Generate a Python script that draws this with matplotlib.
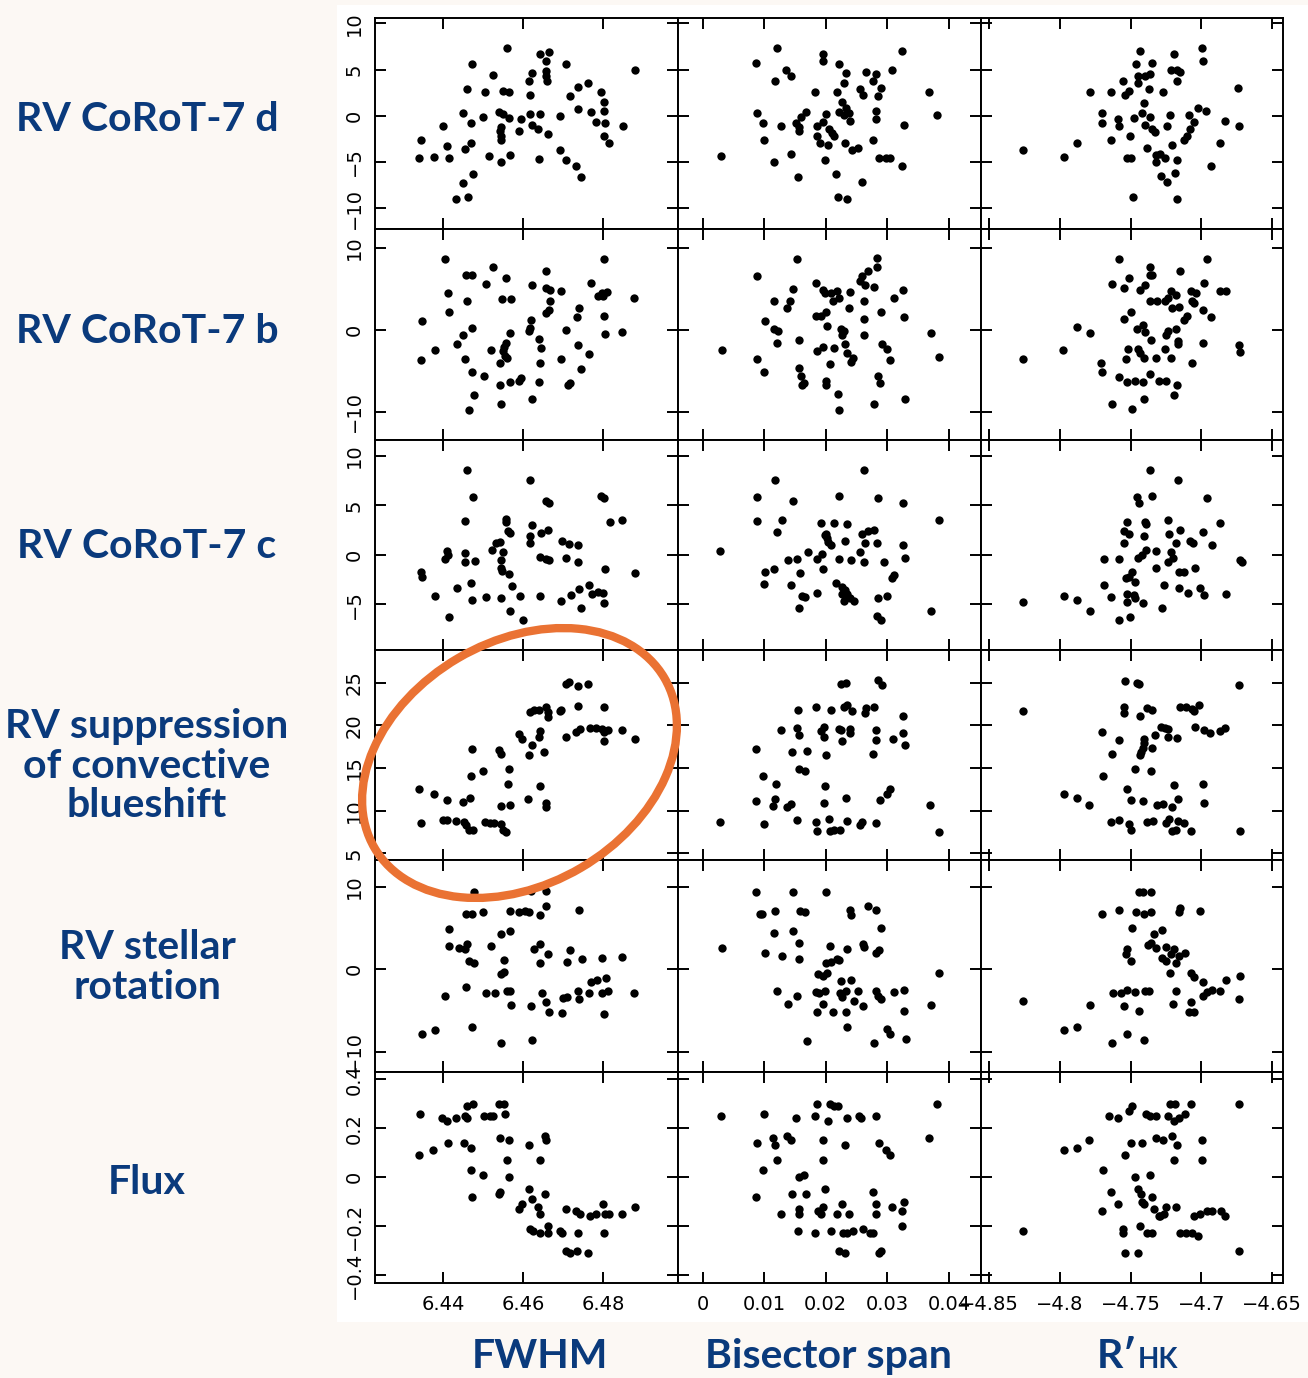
import matplotlib
matplotlib.use('Agg')
import matplotlib.pyplot as plt
from matplotlib.patches import Ellipse, Rectangle

###################### DATA ##########################
row_names = ['RV CoRoT-7 d', 'RV CoRoT-7 b', 'RV CoRoT-7 c',
             'RV suppression\nof convective\nblueshift', 'RV stellar\nrotation', 'Flux']
col_names = ['FWHM', 'Bisector span', 'R\u2032HK']

# row 1 : RV CoRoT-7 d
d_fwhm = [(6.4560,7.3),(6.4642,6.7),(6.4664,6.9),(6.4471,5.6),(6.4707,5.6),(6.4658,5.9),(6.4622,4.6),
          (6.4614,3.8),(6.4525,4.4),(6.4657,4.8),(6.4657,4.3),(6.4660,3.8),(6.4763,3.5),(6.4737,3.1),
          (6.4458,2.9),(6.4503,2.6),(6.4550,2.7),(6.4564,2.6),(6.4617,2.2),(6.4717,2.1),(6.4795,2.6),
          (6.4803,1.5),(6.4738,0.7),(6.4769,0.4),(6.4803,0.5),(6.4450,0.3),(6.4538,0.4),(6.4550,0.2),
          (6.4563,-0.2),(6.4498,-0.1),(6.4616,0.2),(6.4643,0.2),(6.4693,0.0),(6.4595,-0.4),(6.4469,-0.8),
          (6.4398,-1.1),(6.4622,-1.0),(6.4638,-1.4),(6.4783,-0.7),(6.4805,-0.8),(6.4849,-1.1),(6.4543,-1.2),
          (6.4542,-1.6),(6.4543,-2.2),(6.4544,-2.6),(6.4588,-1.6),(6.4663,-2.0),(6.4802,-2.2),(6.4815,-2.9),
          (6.4343,-2.6),(6.4410,-3.3),(6.4453,-3.6),(6.4468,-2.9),(6.4693,-3.7),(6.4339,-4.6),(6.4376,-4.5),
          (6.4413,-4.6),(6.4514,-4.3),(6.4567,-4.2),(6.4543,-5.0),(6.4639,-4.7),(6.4708,-4.8),(6.4733,-5.4),
          (6.4744,-6.6),(6.4473,-6.3),(6.4448,-7.3),(6.4432,-9.0),(6.4461,-8.8),(6.4879,5.0)]
d_bis = [(0.0120,7.3),(0.0087,5.7),(0.0196,6.7),(0.0195,5.9),(0.0222,5.6),(0.0323,7.0),(0.0136,4.9),
         (0.0144,4.3),(0.0117,3.8),(0.0232,4.6),(0.0265,4.7),(0.0281,4.5),(0.0277,3.8),(0.0308,5.0),
         (0.0230,3.5),(0.0182,2.6),(0.0218,2.6),(0.0256,2.9),(0.0260,2.3),(0.0290,3.0),(0.0285,2.1),
         (0.0367,2.6),(0.0227,1.5),(0.0088,0.3),(0.0098,-0.8),(0.0128,-1.1),(0.0152,-0.8),(0.0156,-1.2),
         (0.0157,-1.6),(0.0160,-0.1),(0.0168,0.4),(0.0185,-1.1),(0.0195,-0.7),(0.0200,0.2),(0.0205,-1.4),
         (0.0210,-1.9),(0.0213,-2.2),(0.0185,-2.2),(0.0191,-2.9),(0.0203,-3.2),(0.0222,0.4),(0.0229,0.1),
         (0.0233,0.8),(0.0238,0.3),(0.0240,-0.6),(0.0282,0.5),(0.0282,-0.4),(0.0327,-1.0),(0.0380,0.1),
         (0.0100,-2.6),(0.0231,-2.9),(0.0242,-3.7),(0.0253,-3.5),(0.0276,-2.6),(0.0030,-4.3),(0.0144,-4.1),
         (0.0116,-5.0),(0.0198,-4.8),(0.0286,-4.6),(0.0297,-4.6),(0.0305,-4.6),(0.0324,-5.4),(0.0155,-6.6),
         (0.0216,-6.3),(0.0259,-7.2),(0.0220,-8.8),(0.0234,-9.0)]
d_rhk = [(-4.7436,7.0),(-4.7192,6.7),(-4.6997,7.3),(-4.6986,5.9),(-4.7461,5.6),(-4.7350,5.7),(-4.7212,4.9),
         (-4.7169,4.9),(-4.7149,4.7),(-4.7169,3.8),(-4.7444,4.3),(-4.7398,4.3),(-4.7364,4.5),(-4.7450,3.5),
         (-4.7550,3.8),(-4.7513,2.7),(-4.7542,2.2),(-4.7370,2.9),(-4.7269,2.6),(-4.7636,2.6),(-4.7788,2.6),
         (-4.6739,3.0),(-4.7407,1.4),(-4.7702,0.3),(-4.7699,-0.8),(-4.7585,-0.4),(-4.7579,-1.1),(-4.7473,-0.2),
         (-4.7416,0.3),(-4.7401,-1.0),(-4.7364,-0.1),(-4.7350,-1.4),(-4.7330,-1.7),(-4.7221,0.1),(-4.7244,-1.1),
         (-4.7089,0.1),(-4.7020,0.8),(-4.6969,0.5),(-4.7049,-0.7),(-4.7077,-1.4),(-4.7100,-2.2),(-4.7120,-2.6),
         (-4.6834,-0.6),(-4.6734,-1.1),(-4.6871,-2.9),(-4.7636,-2.6),(-4.7507,-2.2),(-4.8258,-3.7),(-4.7880,-2.9),
         (-4.7971,-4.5),(-4.7387,-3.5),(-4.7321,-4.2),(-4.7292,-4.1),(-4.7255,-4.6),(-4.7321,-5.0),(-4.7527,-4.6),
         (-4.7496,-4.6),(-4.7206,-3.2),(-4.7172,-4.8),(-4.6934,-5.4),(-4.7287,-6.5),(-4.7244,-7.2),(-4.7189,-6.2),
         (-4.7484,-8.8),(-4.7169,-9.0)]

# row 2 : RV CoRoT-7 b
b_fwhm = [(6.4403,8.6),(6.4802,8.6),(6.4525,7.7),(6.4658,7.1),(6.4456,6.7),(6.4471,6.7),(6.4556,6.3),
          (6.4506,5.6),(6.4623,5.4),(6.4658,5.1),(6.4667,4.8),(6.4694,4.7),(6.4770,5.7),(6.4788,4.1),
          (6.4796,4.5),(6.4809,4.6),(6.4800,4.1),(6.4412,4.5),(6.4460,3.5),(6.4547,3.7),(6.4568,3.7),
          (6.4666,3.5),(6.4664,2.4),(6.4658,2.0),(6.4415,2.2),(6.4740,2.7),(6.4735,1.5),(6.4802,1.7),
          (6.4877,3.9),(6.4347,1.1),(6.4619,1.2),(6.4617,0.2),(6.4614,-0.1),(6.4708,0.0),(6.4471,0.2),
          (6.4450,-0.7),(6.4566,-0.4),(6.4805,-0.5),(6.4848,-0.3),(6.4435,-1.7),(6.4556,-1.6),(6.4551,-2.1),
          (6.4640,-1.1),(6.4645,-2.2),(6.4738,-1.9),(6.4379,-2.5),(6.4519,-2.5),(6.4548,-2.6),(6.4554,-3.2),
          (6.4560,-3.4),(6.4764,-3.0),(6.4344,-3.7),(6.4454,-3.6),(6.4694,-3.6),(6.4643,-4.0),(6.4542,-4.1),
          (6.4744,-4.8),(6.4472,-5.2),(6.4501,-5.6),(6.4542,-6.8),(6.4566,-6.4),(6.4589,-6.3),(6.4595,-5.9),
          (6.4640,-6.4),(6.4711,-6.7),(6.4717,-6.5),(6.4477,-8.0),(6.4623,-8.5),(6.4463,-9.8),(6.4545,-9.1)]
b_bis = [(0.0154,8.6),(0.0283,8.7),(0.0283,7.7),(0.0268,7.1),(0.0258,6.5),(0.0088,6.6),(0.0256,5.9),
         (0.0263,5.4),(0.0184,5.7),(0.0196,4.9),(0.0199,4.5),(0.0208,4.5),(0.0218,4.7),(0.0239,4.6),
         (0.0146,5.0),(0.0279,5.2),(0.0326,4.9),(0.0310,3.9),(0.0211,3.5),(0.0222,3.9),(0.0116,3.5),
         (0.0142,3.5),(0.0262,3.5),(0.0137,2.6),(0.0238,2.7),(0.0289,2.2),(0.0201,2.1),(0.0193,1.7),
         (0.0184,1.7),(0.0327,1.5),(0.0101,1.1),(0.0262,1.3),(0.0202,0.4),(0.0116,0.1),(0.0122,-0.1),
         (0.0225,0.1),(0.0229,-0.2),(0.0227,-0.7),(0.0262,-0.7),(0.0370,-0.4),(0.0156,-1.2),(0.0121,-1.6),
         (0.0231,-1.7),(0.0291,-1.8),(0.0299,-2.3),(0.0196,-2.1),(0.0214,-2.2),(0.0186,-2.6),(0.0234,-2.8),
         (0.0305,-3.7),(0.0032,-2.5),(0.0089,-3.6),(0.0244,-3.5),(0.0241,-3.9),(0.0207,-4.2),(0.0099,-5.2),
         (0.0156,-4.7),(0.0160,-5.7),(0.0164,-6.5),(0.0161,-6.7),(0.0201,-6.3),(0.0201,-6.7),(0.0284,-5.7),
         (0.0288,-6.5),(0.0383,-3.3),(0.0219,-7.9),(0.0222,-9.8),(0.0278,-9.1),(0.0329,-8.4)]
b_rhk = [(-4.7582,8.6),(-4.6961,8.6),(-4.7362,7.7),(-4.7147,7.1),(-4.7362,6.7),(-4.7345,6.7),(-4.7513,6.3),
         (-4.7634,5.6),(-4.7397,5.4),(-4.7543,5.1),(-4.7431,4.9),(-4.6983,5.7),(-4.7073,4.7),(-4.7039,4.5),
         (-4.6871,4.7),(-4.6828,4.7),(-4.7211,4.7),(-4.7181,4.2),(-4.7362,3.5),(-4.7310,3.5),(-4.7259,3.5),
         (-4.7237,3.9),(-4.7160,2.8),(-4.7065,3.5),(-4.6987,2.4),(-4.7052,3.3),(-4.7496,2.2),(-4.7543,1.3),
         (-4.7207,2.6),(-4.7104,1.7),(-4.7125,1.2),(-4.6931,1.5),(-4.7414,0.6),(-4.7453,0.1),(-4.7401,-0.3),
         (-4.7358,-1.2),(-4.7237,-0.1),(-4.7250,-0.6),(-4.7181,0.1),(-4.7164,-1.4),(-4.7168,-1.8),(-4.7254,-2.4),
         (-4.7319,-3.5),(-4.7216,-3.4),(-4.7448,-2.4),(-4.7517,-2.3),(-4.7431,-2.8),(-4.7405,-3.5),(-4.7534,-3.6),
         (-4.7879,0.3),(-4.7784,-0.4),(-4.7978,-2.5),(-4.8259,-3.6),(-4.7707,-4.0),(-4.7703,-5.2),(-4.7582,-5.8),
         (-4.7526,-6.4),(-4.7466,-6.3),(-4.7410,-6.4),(-4.7362,-5.4),(-4.7302,-6.3),(-4.7246,-6.3),(-4.7172,-6.7),
         (-4.7069,-4.1),(-4.6987,-1.6),(-4.6737,-1.9),(-4.6728,-2.7),(-4.7190,-8.0),(-4.7405,-8.4),(-4.7634,-9.1),
         (-4.7491,-9.7)]

# row 3 : RV CoRoT-7 c
c_fwhm = [(6.4460,8.6),(6.4616,7.6),(6.4474,5.8),(6.4794,5.9),(6.4802,5.7),(6.4658,5.4),(6.4664,5.2),
          (6.4454,3.4),(6.4556,3.6),(6.4557,3.3),(6.4562,2.4),(6.4566,2.2),(6.4848,3.5),(6.4817,3.3),
          (6.4623,3.0),(6.4661,2.5),(6.4645,2.2),(6.4617,1.9),(6.4616,1.2),(6.4531,1.2),(6.4542,1.3),
          (6.4521,0.5),(6.4548,0.3),(6.4408,0.4),(6.4412,0.0),(6.4403,-0.4),(6.4454,0.2),(6.4454,-0.7),
          (6.4479,-0.6),(6.4643,-0.2),(6.4657,-0.4),(6.4664,-0.5),(6.4708,-0.3),(6.4696,1.4),(6.4714,1.1),
          (6.4738,1.0),(6.4738,-0.7),(6.4543,-0.5),(6.4545,-1.3),(6.4546,-1.6),(6.4563,-1.9),(6.4879,-1.8),
          (6.4805,-1.4),(6.4344,-1.7),(6.4347,-2.2),(6.4571,-3.1),(6.4433,-3.4),(6.4472,-4.6),(6.4469,-2.8),
          (6.4506,-4.3),(6.4545,-4.4),(6.4379,-4.2),(6.4592,-4.2),(6.4642,-4.2),(6.4694,-4.7),(6.4719,-4.1),
          (6.4740,-3.5),(6.4764,-3.0),(6.4771,-4.0),(6.4788,-3.8),(6.4800,-3.9),(6.4802,-4.9),(6.4744,-5.4),
          (6.4566,-5.7),(6.4415,-6.3),(6.4599,-6.6)]
c_bis = [(0.0262,8.6),(0.0118,7.6),(0.0088,5.8),(0.0146,5.4),(0.0221,5.9),(0.0284,5.7),(0.0326,5.2),
         (0.0089,3.4),(0.0129,3.5),(0.0120,2.3),(0.0192,3.2),(0.0214,3.2),(0.0234,3.1),(0.0383,3.5),
         (0.0200,2.1),(0.0202,1.7),(0.0204,1.3),(0.0208,1.0),(0.0198,2.0),(0.0231,1.4),(0.0258,2.1),
         (0.0268,2.4),(0.0278,2.5),(0.0264,1.2),(0.0283,1.2),(0.0255,0.3),(0.0326,1.0),(0.0329,-0.3),
         (0.0171,0.3),(0.0138,-0.5),(0.0153,-0.4),(0.0186,-0.4),(0.0194,0.1),(0.0222,-0.4),(0.0241,-0.5),
         (0.0262,-0.7),(0.0294,-0.7),(0.0196,-1.4),(0.0158,-1.8),(0.0101,-1.7),(0.0116,-1.4),(0.0029,0.4),
         (0.0099,-2.9),(0.0144,-3.0),(0.0161,-4.2),(0.0156,-5.4),(0.0167,-4.3),(0.0186,-3.9),(0.0217,-2.8),
         (0.0226,-3.2),(0.0231,-3.6),(0.0234,-4.0),(0.0229,-4.7),(0.0246,-4.7),(0.0284,-4.4),(0.0300,-4.2),
         (0.0310,-2.0),(0.0307,-2.3),(0.0283,-6.2),(0.0289,-6.6),(0.0370,-5.7),(0.0239,-4.4),(0.0226,-4.0)]
c_rhk = [(-4.7362,8.6),(-4.7164,7.6),(-4.7457,5.8),(-4.7440,5.2),(-4.7349,5.9),(-4.6957,5.7),(-4.7397,3.3),
         (-4.7526,3.3),(-4.7543,2.4),(-4.7513,2.1),(-4.7392,3.1),(-4.7233,3.5),(-4.7229,2.1),(-4.7147,2.5),
         (-4.6987,2.3),(-4.6866,3.2),(-4.7543,1.2),(-4.7405,1.9),(-4.7388,0.5),(-4.7319,0.4),(-4.7181,1.2),
         (-4.7082,1.4),(-4.7060,1.2),(-4.6922,1.0),(-4.7690,-0.4),(-4.7578,-0.4),(-4.7448,-0.3),(-4.7422,0.0),
         (-4.7211,0.3),(-4.7203,-0.3),(-4.7233,-0.7),(-4.7319,-1.3),(-4.7487,-1.7),(-4.7513,-2.2),(-4.7470,-2.7),
         (-4.7267,-3.0),(-4.7160,-1.7),(-4.7125,-1.7),(-4.7047,-1.3),(-4.6729,-0.5),(-4.6716,-0.7),(-4.7690,-3.0),
         (-4.7534,-2.3),(-4.7638,-4.3),(-4.7526,-4.0),(-4.7474,-4.1),(-4.7466,-4.4),(-4.7526,-4.8),(-4.7410,-4.9),
         (-4.7280,-5.4),(-4.7155,-3.4),(-4.7095,-3.9),(-4.7009,-3.4),(-4.6983,-4.1),(-4.6828,-4.0),(-4.8259,-4.8),
         (-4.7970,-4.2),(-4.7879,-4.6),(-4.7784,-5.7),(-4.7578,-6.6),(-4.7504,-6.3)]

# row 4 : RV suppression of convective blueshift
cb_fwhm = [(6.4708,24.8),(6.4715,25.1),(6.4738,24.6),(6.4763,24.9),(6.4738,22.3),(6.4802,22.1),(6.4617,21.6),
           (6.4627,21.8),(6.4640,21.8),(6.4658,22.1),(6.4663,21.6),(6.4663,21.0),(6.4692,21.7),(6.4694,21.8),
           (6.4590,19.0),(6.4596,18.4),(6.4642,19.3),(6.4640,18.6),(6.4622,17.7),(6.4615,16.5),(6.4653,16.9),
           (6.4708,18.6),(6.4733,19.2),(6.4743,19.6),(6.4767,19.7),(6.4783,19.7),(6.4796,19.6),(6.4802,19.2),
           (6.4802,18.2),(6.4813,19.4),(6.4848,19.4),(6.4879,18.4),(6.4471,17.2),(6.4538,17.1),(6.4543,16.6),
           (6.4498,14.6),(6.4563,14.9),(6.4469,14.0),(6.4561,13.1),(6.4642,12.9),(6.4340,12.5),(6.4376,11.9),
           (6.4410,11.2),(6.4448,11.0),(6.4467,11.5),(6.4543,10.5),(6.4567,10.7),(6.4613,11.4),(6.4656,10.9),
           (6.4657,10.4),(6.4343,8.5),(6.4398,8.9),(6.4408,8.9),(6.4432,8.8),(6.4451,8.7),(6.4456,8.3),
           (6.4463,7.7),(6.4475,7.7),(6.4503,8.7),(6.4517,8.6),(6.4527,8.5),(6.4543,8.4),(6.4550,7.7),(6.4557,7.5)]
cb_bis = [(0.0224,24.9),(0.0232,25.0),(0.0285,25.3),(0.0292,24.7),(0.0155,21.8),(0.0184,22.2),(0.0209,21.8),
          (0.0229,22.1),(0.0235,22.4),(0.0243,21.7),(0.0263,21.5),(0.0266,22.0),(0.0279,22.2),(0.0325,21.1),
          (0.0128,19.4),(0.0154,19.7),(0.0156,18.9),(0.0192,19.3),(0.0197,19.8),(0.0197,18.6),(0.0221,19.6),
          (0.0225,19.5),(0.0240,19.6),(0.0240,19.1),(0.0227,18.2),(0.0282,19.4),(0.0282,18.3),(0.0309,18.4),
          (0.0325,19.1),(0.0329,17.7),(0.0087,17.2),(0.0145,16.9),(0.0169,17.0),(0.0200,16.5),(0.0277,16.6),
          (0.0156,14.9),(0.0166,14.6),(0.0098,14.0),(0.0119,13.1),(0.0198,12.9),(0.0232,11.5),(0.0288,11.2),
          (0.0300,11.9),(0.0305,12.5),(0.0087,11.1),(0.0117,11.4),(0.0115,10.5),(0.0137,10.4),(0.0143,10.8),
          (0.0197,10.9),(0.0369,10.7),(0.0029,8.7),(0.0100,8.4),(0.0153,8.9),(0.0184,8.7),(0.0185,7.6),
          (0.0205,9.0),(0.0206,7.6),(0.0214,7.7),(0.0223,7.7),(0.0235,8.8),(0.0256,8.3),(0.0259,8.7),
          (0.0282,8.6),(0.0383,7.5)]
cb_rhk = [(-4.7539,25.2),(-4.7455,25.0),(-4.7441,24.8),(-4.6735,24.7),(-4.8257,21.7),(-4.7545,22.2),(-4.7545,21.4),
          (-4.7433,21.1),(-4.7386,22.0),(-4.7349,21.8),(-4.7148,22.1),(-4.7106,22.2),(-4.7064,21.9),(-4.7050,21.7),
          (-4.7014,22.4),(-4.7288,19.8),(-4.7254,19.7),(-4.7232,19.6),(-4.7170,18.5),(-4.7238,18.6),(-4.7330,18.9),
          (-4.7045,19.8),(-4.6981,19.5),(-4.6939,19.1),(-4.6869,19.3),(-4.6833,19.7),(-4.7701,19.2),(-4.7581,18.3),
          (-4.7405,18.4),(-4.7408,17.9),(-4.7413,17.3),(-4.7427,16.9),(-4.7433,16.5),(-4.7349,17.3),(-4.7631,16.6),
          (-4.7469,14.9),(-4.7358,14.6),(-4.7693,14.0),(-4.7525,12.5),(-4.7190,13.0),(-4.6986,13.1),(-4.7972,11.9),
          (-4.7880,11.5),(-4.7791,10.7),(-4.7497,11.2),(-4.7411,11.1),(-4.7316,10.6),(-4.7274,10.8),(-4.7204,10.4),
          (-4.7165,11.4),(-4.6981,10.9),(-4.7637,8.7),(-4.7581,8.9),(-4.7511,8.4),(-4.7497,7.7),(-4.7386,8.7),
          (-4.7344,8.8),(-4.7246,8.6),(-4.7226,9.0),(-4.7204,7.6),(-4.7182,7.7),(-4.7162,8.8),(-4.7120,8.5),
          (-4.7070,7.6),(-4.6729,7.6)]

# row 5 : RV stellar rotation
rot_fwhm = [(6.4476,9.4),(6.4619,9.5),(6.4657,9.5),(6.4657,7.7),(6.4456,6.7),(6.4471,6.7),(6.4500,6.9),
            (6.4566,7.0),(6.4589,6.9),(6.4605,7.0),(6.4614,6.9),(6.4643,6.6),(6.4740,7.2),(6.4415,4.9),
            (6.4543,4.3),(6.4566,4.6),(6.4415,2.8),(6.4438,2.6),(6.4453,2.4),(6.4460,3.0),(6.4465,1.0),
            (6.4476,0.8),(6.4518,2.8),(6.4627,2.5),(6.4642,3.1),(6.4663,1.8),(6.4717,2.3),(6.4710,0.9),
            (6.4747,1.2),(6.4796,1.4),(6.4848,1.5),(6.4551,1.1),(6.4551,-0.3),(6.4543,-0.6),(6.4642,0.7),
            (6.4770,-1.5),(6.4785,-1.3),(6.4806,-1.1),(6.4456,-2.1),(6.4507,-2.9),(6.4530,-2.9),(6.4559,-2.7),
            (6.4566,-2.7),(6.4405,-3.2),(6.4568,-4.3),(6.4619,-4.5),(6.4646,-2.9),(6.4657,-4.0),(6.4664,-5.2),
            (6.4699,-3.5),(6.4697,-5.3),(6.4710,-3.4),(6.4737,-2.7),(6.4740,-3.6),(6.4764,-2.9),(6.4796,-2.9),
            (6.4802,-5.4),(6.4811,-2.7),(6.4877,-2.9),(6.4346,-7.9),(6.4379,-7.4),(6.4471,-7.0),(6.4543,-8.9),
            (6.4623,-8.6)]
rot_bis = [(0.0087,9.4),(0.0146,9.4),(0.0201,9.4),(0.0093,6.7),(0.0097,6.7),(0.0118,7.0),(0.0158,7.0),
           (0.0166,6.9),(0.0239,7.2),(0.0241,6.6),(0.0268,7.7),(0.0282,7.2),(0.0289,5.0),(0.0116,4.4),
           (0.0146,4.6),(0.0156,3.2),(0.0129,1.6),(0.0156,1.2),(0.0101,2.0),(0.0206,2.8),(0.0234,2.5),
           (0.0260,3.1),(0.0262,2.7),(0.0281,2.0),(0.0286,2.3),(0.0201,0.7),(0.0209,0.9),(0.0218,1.2),
           (0.0222,1.1),(0.0196,-0.8),(0.0187,-0.6),(0.0202,-0.5),(0.0225,-1.4),(0.0241,-1.3),(0.0031,2.6),
           (0.0121,-2.7),(0.0138,-4.2),(0.0153,-3.2),(0.0184,-2.8),(0.0189,-2.9),(0.0199,-2.7),(0.0196,-4.2),
           (0.0223,-2.9),(0.0226,-3.4),(0.0232,-2.7),(0.0246,-3.8),(0.0253,-2.7),(0.0261,-4.4),(0.0281,-2.7),
           (0.0284,-3.2),(0.0289,-3.6),(0.0310,-2.8),(0.0327,-2.5),(0.0327,-5.1),(0.0370,-4.3),(0.0383,-0.4),
           (0.0186,-5.2),(0.0211,-5.2),(0.0232,-5.2),(0.0234,-7.0),(0.0169,-8.7),(0.0300,-7.3),(0.0305,-7.8),
           (0.0278,-8.9),(0.0330,-8.5)]
rot_rhk = [(-4.7440,9.4),(-4.7354,9.4),(-4.7410,9.4),(-4.7698,6.7),(-4.7578,7.2),(-4.7461,6.9),(-4.7405,6.7),
           (-4.7354,6.9),(-4.7147,7.4),(-4.7160,6.9),(-4.7009,7.1),(-4.7491,5.0),(-4.7332,4.3),(-4.7280,4.7),
           (-4.7354,3.2),(-4.7375,2.9),(-4.7319,2.6),(-4.7246,2.7),(-4.7190,2.5),(-4.7116,2.0),(-4.7216,1.9),
           (-4.7160,1.6),(-4.7276,1.4),(-4.7246,1.0),(-4.7181,0.8),(-4.7526,2.5),(-4.7534,1.9),(-4.7496,1.0),
           (-4.7224,-0.4),(-4.7073,-0.4),(-4.7052,-0.9),(-4.6987,-1.5),(-4.6823,-1.3),(-4.6729,-0.8),(-4.7526,-2.5),
           (-4.7621,-2.9),(-4.7569,-2.9),(-4.7470,-2.8),(-4.7397,-2.7),(-4.7366,-2.7),(-4.7181,-2.7),(-4.7073,-4.0),
           (-4.7086,-5.2),(-4.7052,-5.2),(-4.6957,-2.8),(-4.6922,-2.5),(-4.6866,-2.7),(-4.6987,-3.3),(-4.7203,-4.2),
           (-4.7440,-5.1),(-4.7543,-4.4),(-4.6737,-3.6),(-4.8259,-3.8),(-4.7784,-4.3),(-4.7970,-7.4),(-4.7879,-7.0),
           (-4.7634,-8.9),(-4.7526,-7.8),(-4.7405,-8.6)]

# row 6 : Flux
flux_fwhm = [(6.4342,0.26),(6.4338,0.09),(6.4375,0.11),(6.4411,0.14),(6.4396,0.24),(6.4408,0.23),(6.4432,0.24),
             (6.4453,0.25),(6.4458,0.24),(6.4452,0.14),(6.4468,0.12),(6.4458,0.29),(6.4475,0.30),(6.4469,0.03),
             (6.4471,-0.08),(6.4498,0.01),(6.4502,0.25),(6.4517,0.25),(6.4525,0.25),(6.4538,0.30),(6.4552,0.30),
             (6.4553,0.26),(6.4542,0.16),(6.4565,0.15),(6.4560,0.07),(6.4563,0.00),(6.4538,-0.07),(6.4542,-0.06),
             (6.4590,-0.13),(6.4596,-0.11),(6.4614,0.13),(6.4614,-0.05),(6.4621,-0.09),(6.4638,-0.12),(6.4642,-0.15),
             (6.4642,0.07),(6.4654,0.17),(6.4658,0.15),(6.4654,-0.07),(6.4617,-0.21),(6.4625,-0.22),(6.4642,-0.23),
             (6.4663,-0.20),(6.4663,-0.23),(6.4692,-0.22),(6.4696,-0.23),(6.4708,-0.13),(6.4733,-0.14),(6.4743,-0.15),
             (6.4767,-0.16),(6.4783,-0.15),(6.4800,-0.11),(6.4804,-0.15),(6.4815,-0.15),(6.4848,-0.15),(6.4879,-0.12),
             (6.4707,-0.30),(6.4718,-0.31),(6.4735,-0.30),(6.4763,-0.31),(6.4738,-0.23),(6.4802,-0.23)]
flux_bis = [(0.0030,0.25),(0.0100,0.26),(0.0186,0.30),(0.0206,0.30),(0.0213,0.29),(0.0220,0.29),(0.0182,0.25),
            (0.0203,0.23),(0.0152,0.24),(0.0234,0.24),(0.0254,0.25),(0.0257,0.24),(0.0281,0.25),(0.0380,0.30),
            (0.0088,0.14),(0.0114,0.16),(0.0117,0.13),(0.0137,0.17),(0.0143,0.15),(0.0195,0.15),(0.0231,0.13),
            (0.0286,0.14),(0.0297,0.11),(0.0304,0.09),(0.0367,0.16),(0.0120,0.07),(0.0195,0.07),(0.0098,0.03),
            (0.0156,0.00),(0.0165,0.01),(0.0086,-0.08),(0.0145,-0.07),(0.0168,-0.07),(0.0199,-0.05),(0.0276,-0.06),
            (0.0127,-0.15),(0.0156,-0.13),(0.0156,-0.15),(0.0187,-0.14),(0.0193,-0.15),(0.0196,-0.12),(0.0226,-0.11),
            (0.0218,-0.15),(0.0238,-0.15),(0.0282,-0.11),(0.0282,-0.15),(0.0308,-0.12),(0.0327,-0.10),(0.0323,-0.14),
            (0.0323,-0.20),(0.0155,-0.22),(0.0183,-0.23),(0.0208,-0.22),(0.0228,-0.23),(0.0235,-0.23),(0.0244,-0.22),
            (0.0261,-0.21),(0.0271,-0.23),(0.0277,-0.23),(0.0221,-0.30),(0.0231,-0.31),(0.0286,-0.31),(0.0290,-0.30)]
flux_rhk = [(-4.7650,0.25),(-4.7587,0.24),(-4.7513,0.27),(-4.7493,0.29),(-4.7393,0.26),(-4.7364,0.25),(-4.7321,0.25),
            (-4.7235,0.25),(-4.7192,0.23),(-4.7158,0.24),(-4.7112,0.26),(-4.7221,0.30),(-4.7186,0.30),(-4.7072,0.30),
            (-4.6734,0.30),(-4.7971,0.11),(-4.7880,0.12),(-4.7794,0.15),(-4.7499,0.14),(-4.7416,0.14),(-4.7321,0.16),
            (-4.7272,0.15),(-4.7206,0.17),(-4.7169,0.13),(-4.7536,0.09),(-4.7192,0.07),(-4.6992,0.15),(-4.6992,0.07),
            (-4.7696,0.03),(-4.7470,0.00),(-4.7364,0.01),(-4.7636,-0.06),(-4.7450,-0.05),(-4.7427,-0.07),(-4.7421,-0.10),
            (-4.7407,-0.11),(-4.7350,-0.08),(-4.7585,-0.11),(-4.7702,-0.14),(-4.7335,-0.13),(-4.7292,-0.16),(-4.7249,-0.12),
            (-4.7178,-0.12),(-4.7049,-0.16),(-4.7006,-0.15),(-4.6963,-0.14),(-4.6926,-0.14),(-4.6863,-0.14),(-4.6834,-0.16),
            (-4.7550,-0.21),(-4.7550,-0.23),(-4.7436,-0.20),(-4.7387,-0.23),(-4.7350,-0.23),(-4.7149,-0.23),(-4.7106,-0.23),
            (-4.7063,-0.23),(-4.7020,-0.24),(-4.7542,-0.31),(-4.7450,-0.31),(-4.6734,-0.30),(-4.8258,-0.22),(-4.7301,-0.16),
            (-4.7264,-0.15)]

# axis ticks and ranges
fwhm_ticks = [6.44, 6.46, 6.48]
bis_ticks = [0, 0.01, 0.02, 0.03, 0.04]
bis_labels = ['0', '0.01', '0.02', '0.03', '0.04']
rhk_ticks = [-4.85, -4.8, -4.75, -4.7, -4.65]
rhk_labels = ['\u22124.85', '\u22124.8', '\u22124.75', '\u22124.7', '\u22124.65']
x_ticks = [fwhm_ticks, bis_ticks, rhk_ticks]
x_labels = [['6.44', '6.46', '6.48'], bis_labels, rhk_labels]
x_lims = [(6.4229, 6.4987), (-0.0040, 0.0452), (-4.8556, -4.6423)]

y_ticks = [[-10, -5, 0, 5, 10], [-10, 0, 10], [-5, 0, 5, 10], [5, 10, 15, 20, 25], [-10, 0, 10],
           [-0.4, -0.2, 0, 0.2, 0.4]]
y_labels = [['\u221210', '\u22125', '0', '5', '10'], ['\u221210', '0', '10'], ['\u22125', '0', '5', '10'],
            ['5', '10', '15', '20', '25'], ['\u221210', '0', '10'],
            ['\u22120.4', '\u22120.2', '0', '0.2', '0.4']]
y_lims = [(-12.24, 10.57), (-13.45, 12.28), (-9.61, 11.59), (4.21, 28.83), (-12.46, 13.24), (-0.4325, 0.430)]

panels = [[d_fwhm, d_bis, d_rhk], [b_fwhm, b_bis, b_rhk], [c_fwhm, c_bis, c_rhk],
          [cb_fwhm, cb_bis, cb_rhk], [rot_fwhm, rot_bis, rot_rhk], [flux_fwhm, flux_bis, flux_rhk]]

#################### LAYOUT ##########################
W, H = 1308, 1378
cream = '#fcf8f4'
navy = '#0a3a7c'
col_edges = [375, 678, 981, 1283]
row_edges = [18, 229, 440, 650, 860, 1072, 1283]

fig = plt.figure(figsize=(W / 100, H / 100), dpi=100, facecolor=cream)
fig.add_artist(Rectangle((337 / W, 1 - 1322 / H), (W - 337) / W, (1322 - 5) / H,
                         transform=fig.transFigure, facecolor='white', edgecolor='none', zorder=-5))

for r in range(6):
    for c in range(3):
        x0, x1 = col_edges[c], col_edges[c + 1]
        y0, y1 = row_edges[r], row_edges[r + 1]
        ax = fig.add_axes([x0 / W, 1 - y1 / H, (x1 - x0) / W, (y1 - y0) / H])
        ax.set_facecolor('white')
        pts = panels[r][c]
        ax.plot([p[0] for p in pts], [p[1] for p in pts], 'o', color='black', ms=6, mew=0)
        ax.set_xlim(*x_lims[c])
        ax.set_ylim(*y_lims[r])
        ax.set_xticks(x_ticks[c], x_labels[c], fontsize=14, family='DejaVu Sans')
        ax.set_yticks(y_ticks[r], y_labels[r], fontsize=14, family='DejaVu Sans',
                      rotation=90, va='center')
        ax.tick_params(direction='in', length=8, width=1.4, top=True, right=True,
                       labelleft=(c == 0), labelbottom=(r == 5))
        ax.tick_params(axis='y', pad=8)
        ax.tick_params(axis='x', pad=9)
        for s in ax.spines.values():
            s.set_linewidth(1.4)

################ TEXT + HIGHLIGHT ####################
ov = fig.add_axes([0, 0, 1, 1], zorder=10)
ov.set_xlim(0, W)
ov.set_ylim(H, 0)
ov.axis('off')
ov.patch.set_alpha(0)

lab_font = dict(family='Lato', weight='bold', color=navy, fontsize=29.5, ha='center', va='baseline')
left_lines = [(row_names[0], 131), (row_names[1], 343), (row_names[2], 558)]
for txt, yb in left_lines:
    ov.text(147, yb, txt, **lab_font)
for txt, yb in zip(row_names[3].split('\n'), [738, 778, 817]):
    ov.text(147, yb, txt, **lab_font)
for txt, yb in zip(row_names[4].split('\n'), [959, 999]):
    ov.text(147, yb, txt, **lab_font)
ov.text(147, 1194, row_names[5], **lab_font)

ov.text(540, 1368, col_names[0], **lab_font)
ov.text(828, 1368, col_names[1], **lab_font)
rlab = dict(lab_font)
rlab['ha'] = 'right'
ov.text(1137, 1368, col_names[2][:2], **rlab)
rlab['ha'] = 'left'
rlab['fontsize'] = 20
ov.text(1138, 1368, col_names[2][2:], **rlab)

ov.add_patch(Ellipse((519.5, 763), 336, 243, angle=-30.4, fill=False,
                     edgecolor='#ea7233', linewidth=6))

fig.savefig('out.png', dpi=100, facecolor=cream)
